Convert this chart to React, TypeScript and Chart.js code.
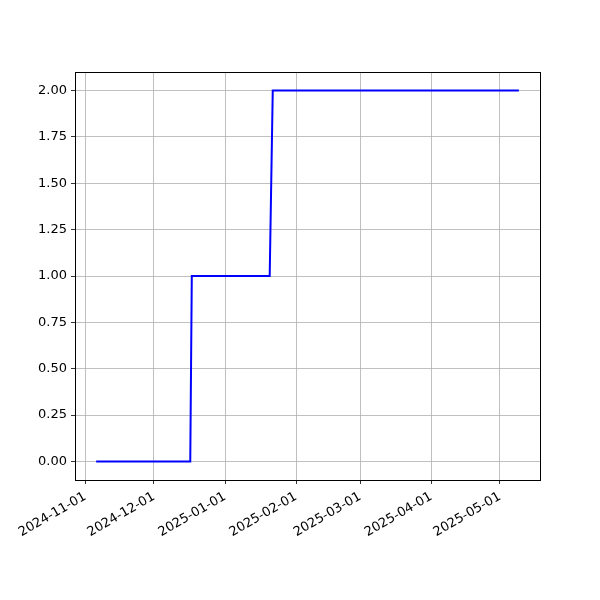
import React, { useEffect, useRef } from "react";
import { Chart, registerables } from "chart.js";

Chart.register(...registerables);

const pointDates: string[] = [
  "2024-11-05T18:00:00Z",
  "2024-12-16T20:00:00Z",
  "2024-12-17T12:00:00Z",
  "2025-01-20T12:00:00Z",
  "2025-01-21T20:00:00Z",
  "2025-05-09T06:00:00Z",
];
const pointValues: number[] = [0, 0, 1, 1, 2, 2];
const xTickDates: string[] = [
  "2024-11-01",
  "2024-12-01",
  "2025-01-01",
  "2025-02-01",
  "2025-03-01",
  "2025-04-01",
  "2025-05-01",
];
const yTickValues: number[] = [0, 0.25, 0.5, 0.75, 1, 1.25, 1.5, 1.75, 2];

const FONT = { family: "'DejaVu Sans', sans-serif", size: 13 };

export default function App() {
  const ref = useRef<HTMLCanvasElement | null>(null);
  useEffect(() => {
    if (!ref.current) return;
    const ts = pointDates.map((d) => Date.parse(d));
    const d0 = Math.min(...ts);
    const d1 = Math.max(...ts);
    const span = d1 - d0;
    const xMin = d0 - 0.05 * span;
    const xMax = d1 + 0.05 * span;
    const vMin = Math.min(...pointValues);
    const vMax = Math.max(...pointValues);
    const vSpan = vMax - vMin;
    const xTicks = xTickDates.map((d) => Date.parse(d + "T00:00:00Z"));

    const spines = {
      id: "spines",
      afterDraw(chart: any) {
        const { ctx, chartArea } = chart;
        ctx.save();
        ctx.strokeStyle = "#000";
        ctx.lineWidth = 1;
        ctx.strokeRect(
          Math.round(chartArea.left) + 0.5,
          Math.round(chartArea.top) + 0.5,
          Math.round(chartArea.right - chartArea.left),
          Math.round(chartArea.bottom - chartArea.top)
        );
        ctx.restore();
      },
    };

    const chart = new Chart(ref.current, {
      type: "line",
      data: {
        datasets: [
          {
            data: ts.map((t, i) => ({ x: t, y: pointValues[i] })),
            borderColor: "#0000ff",
            borderWidth: 2,
            pointRadius: 0,
            fill: false,
            tension: 0,
          },
        ],
      },
      options: {
        animation: false,
        responsive: false,
        maintainAspectRatio: false,
        layout: { padding: { top: 72, right: 60, left: 0, bottom: 0 } },
        plugins: { legend: { display: false }, tooltip: { enabled: false } },
        scales: {
          x: {
            type: "linear",
            min: xMin,
            max: xMax,
            afterBuildTicks: (axis: any) => {
              axis.ticks = xTicks.map((v) => ({ value: v }));
            },
            afterFit: (axis: any) => {
              axis.height = 120;
            },
            ticks: {
              autoSkip: false,
              maxRotation: 30,
              minRotation: 30,
              color: "#000",
              font: FONT,
              padding: 5,
              callback: (v: any) => new Date(Number(v)).toISOString().slice(0, 10),
            },
            grid: {
              color: "#b0b0b0",
              lineWidth: 0.8,
              tickColor: "#000",
              tickLength: 4,
            },
            border: { color: "#000", width: 1 },
          },
          y: {
            type: "linear",
            min: vMin - 0.05 * vSpan,
            max: vMax + 0.05 * vSpan,
            afterBuildTicks: (axis: any) => {
              axis.ticks = yTickValues.map((v) => ({ value: v }));
            },
            afterFit: (axis: any) => {
              axis.width = 75;
            },
            ticks: {
              color: "#000",
              font: FONT,
              padding: 4,
              callback: (v: any) => Number(v).toFixed(2),
            },
            grid: {
              color: "#b0b0b0",
              lineWidth: 0.8,
              tickColor: "#000",
              tickLength: 4,
            },
            border: { color: "#000", width: 1 },
          },
        },
      },
      plugins: [spines],
    });
    return () => chart.destroy();
  }, []);

  return (
    <div style={{ position: "fixed", left: 0, top: 0, width: 600, height: 600, background: "#fff" }}>
      <canvas ref={ref} width={600} height={600} style={{ width: 600, height: 600 }} />
    </div>
  );
}
